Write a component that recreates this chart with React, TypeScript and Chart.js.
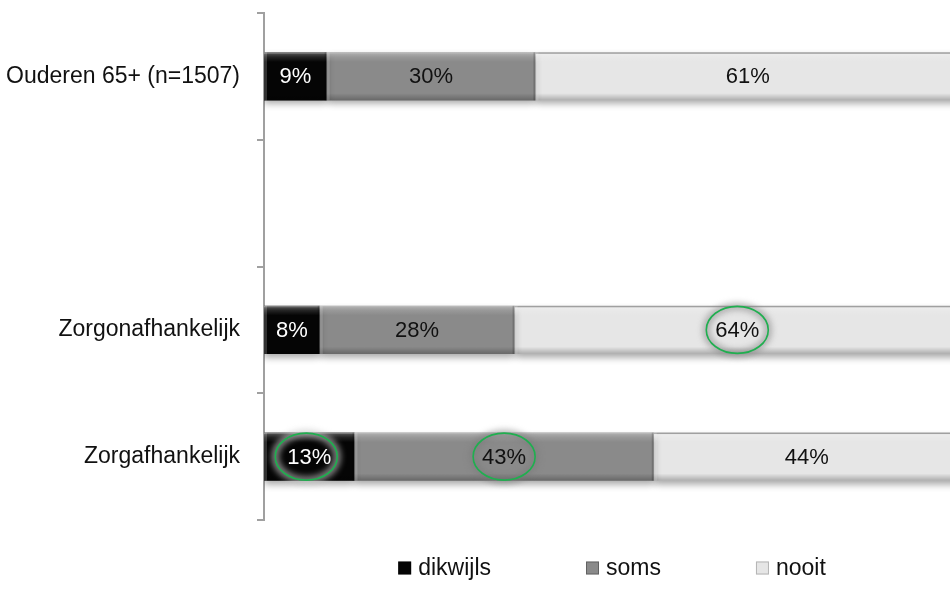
import React, { useEffect, useRef } from "react";
import { Chart, registerables } from "chart.js";

Chart.register(...registerables);

const categories = ["Ouderen 65+ (n=1507)", "", "Zorgonafhankelijk", "Zorgafhankelijk"];
const seriesNames = ["dikwijls", "soms", "nooit"];
const dikwijls = [9, null, 8, 13];
const soms = [30, null, 28, 43];
const nooit = [61, null, 64, 44];
const seriesColors = ["#050505", "#8a8a8a", "#e6e6e6"];
const labelColors = ["#ffffff", "#111111", "#111111"];
// highlighted labels: [categoryIndex, seriesIndex]
const highlights: [number, number][] = [
  [2, 2],
  [3, 0],
  [3, 1],
];

const FONT = "'Liberation Sans', Arial, Helvetica, sans-serif";

const barDecor = {
  id: "barDecor",
  beforeDatasetsDraw(chart: any) {
    const ctx = chart.ctx;
    ctx.save();
    ctx.shadowColor = "rgba(0,0,0,0.35)";
    ctx.shadowBlur = 7;
    ctx.shadowOffsetY = 4;
  },
  afterDatasetsDraw(chart: any) {
    const ctx = chart.ctx;
    ctx.restore();
    ctx.save();
    chart.data.datasets.forEach((ds: any, di: number) => {
      const meta = chart.getDatasetMeta(di);
      meta.data.forEach((el: any, i: number) => {
        if (ds.data[i] == null) return;
        const left = Math.min(el.x, el.base);
        const right = Math.max(el.x, el.base);
        const top = el.y - el.height / 2;
        const h = el.height;
        const w = right - left;
        const g = ctx.createLinearGradient(0, top, 0, top + h);
        g.addColorStop(0, "rgba(255,255,255,0.35)");
        g.addColorStop(0.1, "rgba(255,255,255,0.12)");
        g.addColorStop(0.2, "rgba(255,255,255,0)");
        g.addColorStop(0.85, "rgba(0,0,0,0)");
        g.addColorStop(1, "rgba(0,0,0,0.25)");
        ctx.fillStyle = g;
        ctx.fillRect(left, top, w, h);
        ctx.fillStyle = di === 2 ? "rgba(140,140,140,0.8)" : "rgba(200,200,200,0.35)";
        ctx.fillRect(left, top, w, 1.5);
        ctx.fillStyle = "rgba(255,255,255,0.18)";
        ctx.fillRect(left, top, 3, h);
        ctx.fillStyle = "rgba(0,0,0,0.18)";
        ctx.fillRect(right - 2, top, 2, h);
      });
    });
    ctx.font = `22px ${FONT}`;
    ctx.textAlign = "center";
    ctx.textBaseline = "middle";
    chart.data.datasets.forEach((ds: any, di: number) => {
      const meta = chart.getDatasetMeta(di);
      meta.data.forEach((el: any, i: number) => {
        const v = ds.data[i];
        if (v == null) return;
        const cx = (el.x + el.base) / 2;
        const cy = el.y;
        const hl = highlights.some(([c, s]) => c === i && s === di);
        const ex = cx - (di === 0 ? 3 : 0);
        if (hl) {
          ctx.save();
          ctx.filter = "blur(3px)";
          ctx.strokeStyle = di === 0 ? "rgba(200,200,200,0.7)" : "rgba(120,120,120,0.55)";
          ctx.lineWidth = 7;
          ctx.beginPath();
          ctx.ellipse(ex, cy, 31, 23.5, 0, 0, Math.PI * 2);
          ctx.stroke();
          ctx.restore();
          ctx.save();
          ctx.strokeStyle = "#1faf4f";
          ctx.lineWidth = 1.6;
          ctx.beginPath();
          ctx.ellipse(ex, cy, 31, 23.5, 0, 0, Math.PI * 2);
          ctx.stroke();
          ctx.restore();
        }
        ctx.fillStyle = labelColors[di];
        ctx.fillText(`${v}%`, cx, cy + 1);
      });
    });
    ctx.restore();
  },
  afterDraw(chart: any) {
    const ctx = chart.ctx;
    const ca = chart.chartArea;
    ctx.save();
    ctx.font = `23px ${FONT}`;
    ctx.textBaseline = "middle";
    ctx.textAlign = "left";
    const box = 13;
    const gapBox = 7;
    const gapItem = 95;
    const widths = seriesNames.map((n) => box + gapBox + ctx.measureText(n).width);
    const total = widths.reduce((a, b) => a + b, 0) + gapItem * (widths.length - 1);
    let x = (ca.left + ca.right) / 2 - total / 2;
    const y = 568;
    seriesNames.forEach((n, i) => {
      ctx.fillStyle = seriesColors[i];
      ctx.fillRect(x, y - box / 2, box, box);
      ctx.strokeStyle = i === 2 ? "#b5b5b5" : "rgba(0,0,0,0.3)";
      ctx.lineWidth = 1;
      ctx.strokeRect(x + 0.5, y - box / 2 + 0.5, box - 1, box - 1);
      ctx.fillStyle = "#111111";
      ctx.fillText(n, x + box + gapBox, y + 1);
      x += widths[i] + gapItem;
    });
    ctx.restore();
  },
};

export default function App() {
  const ref = useRef<HTMLCanvasElement | null>(null);
  useEffect(() => {
    if (!ref.current) return;
    const seriesData = [dikwijls, soms, nooit];
    const chart = new Chart(ref.current, {
      type: "bar",
      data: {
        labels: categories,
        datasets: seriesNames.map((name, i) => ({
          label: name,
          data: seriesData[i],
          backgroundColor: seriesColors[i],
          borderWidth: 0,
          barPercentage: 0.38,
          categoryPercentage: 1,
        })),
      },
      options: {
        indexAxis: "y",
        responsive: false,
        animation: false,
        layout: { padding: { top: 13, bottom: 76, left: 0, right: 0 } },
        plugins: {
          legend: { display: false },
          tooltip: { enabled: false },
        },
        scales: {
          x: {
            stacked: true,
            min: 0,
            max: 100,
            display: false,
          },
          y: {
            stacked: true,
            afterFit: (s: any) => {
              s.width = 264;
              s.paddingTop = 0;
              s.paddingBottom = 0;
            },
            border: { display: true, color: "#a0a0a0", width: 2 },
            grid: {
              offset: true,
              drawOnChartArea: false,
              drawTicks: true,
              tickLength: 7,
              color: "#a0a0a0",
              lineWidth: 2,
            },
            ticks: {
              color: "#111111",
              padding: 17,
              font: { family: FONT, size: 23 },
            },
          },
        },
      },
      plugins: [barDecor],
    });
    return () => chart.destroy();
  }, []);
  return (
    <div
      style={{
        position: "absolute",
        left: 0,
        top: 0,
        width: 950,
        height: 596,
        overflow: "hidden",
        background: "#ffffff",
      }}
    >
      <canvas ref={ref} width={960} height={596} style={{ display: "block" }} />
    </div>
  );
}
